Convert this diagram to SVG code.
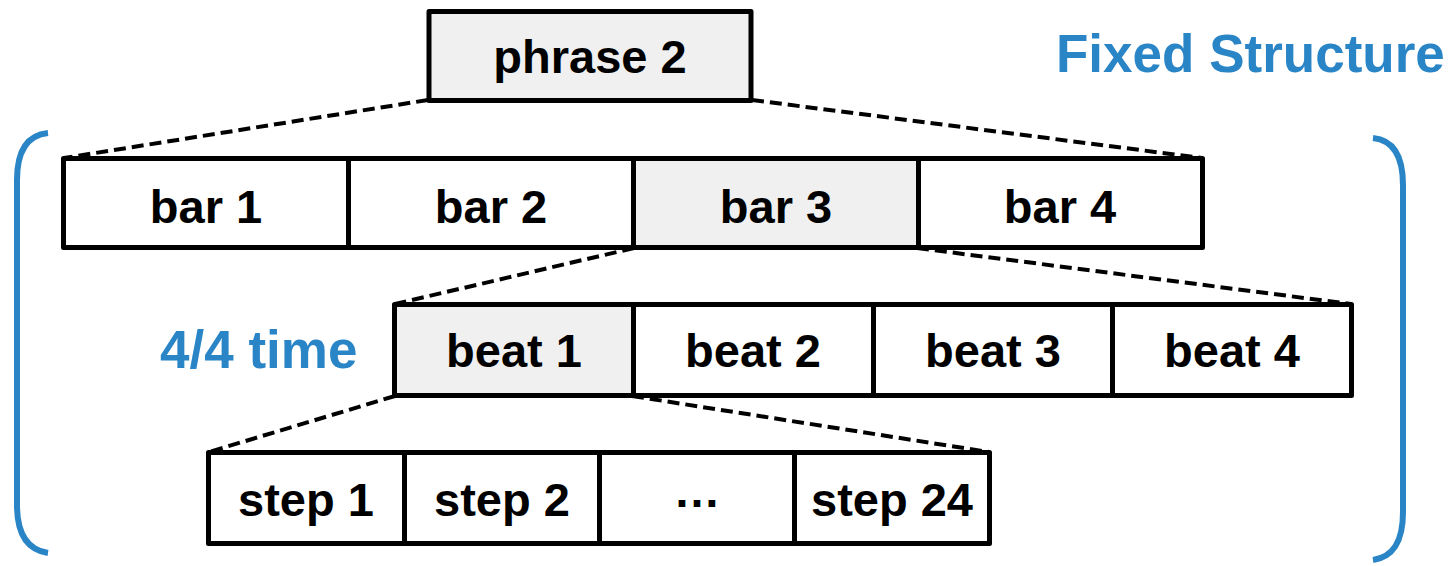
<svg xmlns="http://www.w3.org/2000/svg" width="1451" height="566" viewBox="0 0 1451 566">
<style>
.box{fill:#ffffff;stroke:#000;stroke-width:5;stroke-linejoin:round}
.sel{fill:#f0f0f0}
.lbl{font-family:"Liberation Sans",Arial,sans-serif;font-weight:bold;font-size:47px;fill:#000;text-anchor:middle}
.blue{font-family:"Liberation Sans",Arial,sans-serif;font-weight:bold;font-size:53px;fill:#2A85C7}
.dash{fill:none;stroke:#000;stroke-width:4;stroke-dasharray:12 6}
.brk{fill:none;stroke:#2A85C7;stroke-width:6;stroke-linecap:butt}
</style>
<rect width="1451" height="566" fill="#fff"/>
<g id="connectors">
<line class="dash" x1="428" y1="100" x2="64" y2="158"/>
<line class="dash" x1="752" y1="100" x2="1202" y2="158"/>
<line class="dash" x1="634" y1="248" x2="395" y2="304"/>
<line class="dash" x1="917" y1="248" x2="1351" y2="304"/>
<line class="dash" x1="395" y1="396" x2="209" y2="452"/>
<line class="dash" x1="632" y1="396" x2="989" y2="452"/>
</g>
<g id="brackets">
<path class="brk" d="M48,133 C28,135 17,150 17,180 L17,505 C17,535 28,550 48,553"/>
<path class="brk" d="M1373,138 C1393,140 1403,155 1403,185 L1403,512 C1403,542 1393,557 1373,560"/>
</g>
<g id="phrase2"><rect class="box sel" x="429" y="11.5" width="322" height="89"/><text class="lbl" x="590" y="73">phrase 2</text></g>
<g id="bar1"><rect class="box" x="63.5" y="158.5" width="285" height="89"/><text class="lbl" x="206" y="223">bar 1</text></g>
<g id="bar2"><rect class="box" x="348.5" y="158.5" width="285" height="89"/><text class="lbl" x="491" y="223">bar 2</text></g>
<g id="bar3"><rect class="box sel" x="633.5" y="158.5" width="285" height="89"/><text class="lbl" x="776" y="223">bar 3</text></g>
<g id="bar4"><rect class="box" x="918.5" y="158.5" width="284" height="89"/><text class="lbl" x="1060" y="223">bar 4</text></g>
<g id="beat1"><rect class="box sel" x="394.5" y="304.5" width="239" height="91"/><text class="lbl" x="514" y="367">beat 1</text></g>
<g id="beat2"><rect class="box" x="633.5" y="304.5" width="240" height="91"/><text class="lbl" x="753" y="367">beat 2</text></g>
<g id="beat3"><rect class="box" x="873.5" y="304.5" width="239" height="91"/><text class="lbl" x="993" y="367">beat 3</text></g>
<g id="beat4"><rect class="box" x="1112.5" y="304.5" width="239" height="91"/><text class="lbl" x="1232" y="367">beat 4</text></g>
<g id="step1"><rect class="box" x="208.5" y="452.5" width="196" height="91"/><text class="lbl" x="306" y="516">step 1</text></g>
<g id="step2"><rect class="box" x="404.5" y="452.5" width="195" height="91"/><text class="lbl" x="502" y="516">step 2</text></g>
<g id="stepdots"><rect class="box" x="599.5" y="452.5" width="195" height="91"/><text class="lbl" x="697" y="507">…</text></g>
<g id="step24"><rect class="box" x="794.5" y="452.5" width="195" height="91"/><text class="lbl" x="892" y="516">step 24</text></g>
<g id="labels">
<text class="blue" x="1056" y="72">Fixed Structure</text>
<text class="blue" x="160" y="368">4/4 time</text>
</g>
</svg>
